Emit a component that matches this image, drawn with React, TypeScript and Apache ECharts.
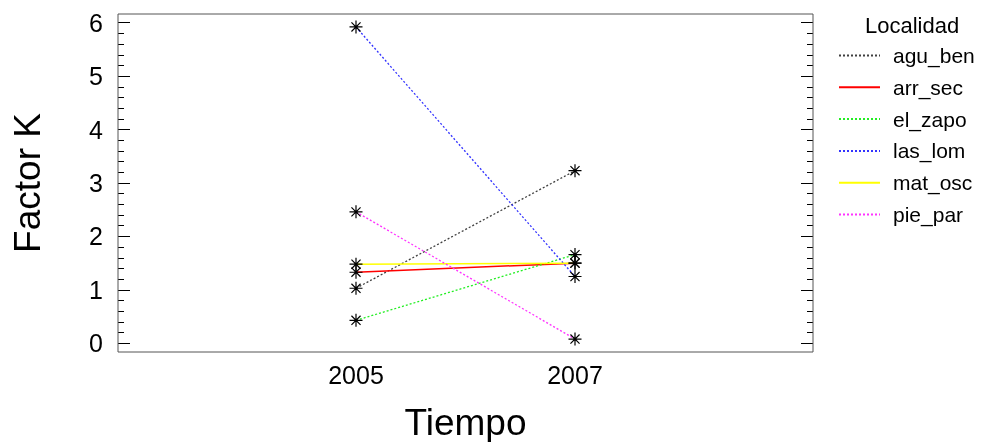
import React, { useEffect, useRef } from "react";
import * as echarts from "echarts";

const years = [2005, 2007];
const seriesNames = ["agu_ben", "arr_sec", "el_zapo", "las_lom", "mat_osc", "pie_par"];
const aguBen = [1.03, 3.23];
const arrSec = [1.33, 1.5];
const elZapo = [0.43, 1.66];
const lasLom = [5.92, 1.25];
const matOsc = [1.48, 1.5];
const piePar = [2.46, 0.08];
const yTicks = [0, 1, 2, 3, 4, 5, 6];
const xTickLabels = ["2005", "2007"];

const values = [aguBen, arrSec, elZapo, lasLom, matOsc, piePar];
const colors = ["#404040", "#ff0000", "#22ee22", "#3333ff", "#ffff00", "#ff33ff"];
const dashed = [true, false, true, true, false, true];

const FONT = "'Liberation Sans', Arial, sans-serif";
const STAR = "path://M5,0 L5,10 M0,5 L10,5 M1.5,1.5 L8.5,8.5 M8.5,1.5 L1.5,8.5";

// Plot frame (outer box) and inner data region
const FRAME = { left: 118, top: 14, right: 813, bottom: 352 };
const INNER = { left: 356, top: 22.7, right: 575, bottom: 343.3 };

export default function App() {
  const ref = useRef<HTMLDivElement>(null);
  useEffect(() => {
    if (!ref.current) return;
    const chart = echarts.init(ref.current, null, { renderer: "svg" });
    const yAxisBase = {
      type: "value",
      min: yTicks[0],
      max: yTicks[yTicks.length - 1],
      interval: 1,
      splitLine: { show: false },
      axisLine: { show: false },
      axisTick: { show: true, inside: true, length: 12, lineStyle: { color: "#000", width: 1 } },
      minorTick: { show: true, splitNumber: 5, length: 6, lineStyle: { color: "#000", width: 1 } },
    };
    chart.setOption({
      animation: false,
      textStyle: { fontFamily: FONT },
      title: {
        text: "Localidad",
        left: 860,
        top: 9,
        textStyle: { fontFamily: FONT, fontSize: 22, fontWeight: "normal", color: "#000" },
      },
      legend: {
        orient: "vertical",
        left: 833,
        top: 40,
        itemWidth: 41,
        itemHeight: 14,
        itemGap: 10.8,
        data: seriesNames,
        itemStyle: { opacity: 0 },
        textStyle: { fontFamily: FONT, fontSize: 21, color: "#000", padding: [0, 0, 0, 8] },
      },
      graphic: [
        {
          type: "rect",
          silent: true,
          z: 100,
          shape: {
            x: FRAME.left,
            y: FRAME.top,
            width: FRAME.right - FRAME.left,
            height: FRAME.bottom - FRAME.top,
          },
          style: { fill: "none", stroke: "#555", lineWidth: 1 },
        },
      ],
      grid: {
        left: INNER.left,
        top: INNER.top,
        right: 982 - INNER.right,
        bottom: 442 - INNER.bottom,
        show: false,
        containLabel: false,
        outerBoundsMode: "none",
      },
      xAxis: {
        type: "value",
        min: years[0],
        max: years[1],
        interval: 2,
        offset: FRAME.bottom - INNER.bottom,
        name: "Tiempo",
        nameLocation: "middle",
        nameGap: 52,
        nameTextStyle: { fontFamily: FONT, fontSize: 37, color: "#000" },
        splitLine: { show: false },
        axisLine: { show: false },
        axisTick: { show: false },
        axisLabel: {
          fontFamily: FONT,
          fontSize: 25,
          color: "#000",
          margin: 10,
          formatter: (v: number) => {
            const s = String(Math.round(v));
            return xTickLabels.includes(s) ? s : "";
          },
        },
      },
      yAxis: [
        {
          ...yAxisBase,
          position: "left",
          offset: INNER.left - FRAME.left,
          name: "Factor K",
          nameLocation: "middle",
          nameRotate: 90,
          nameGap: 72,
          nameTextStyle: { fontFamily: FONT, fontSize: 37, color: "#000" },
          axisLabel: {
            fontFamily: FONT,
            fontSize: 25,
            color: "#000",
            margin: 15,
            formatter: (v: number) => String(Math.round(v)),
          },
        },
        {
          ...yAxisBase,
          position: "right",
          offset: FRAME.right - INNER.right,
          axisLabel: { show: false },
        },
      ],
      series: seriesNames.map((name, i) => ({
        name,
        type: "line",
        data: years.map((yr, j) => [yr, values[i][j]]),
        symbol: STAR,
        symbolSize: 13,
        clip: false,
        itemStyle: { color: colors[i], borderColor: "#000", borderWidth: 1.2 },
        lineStyle: { color: colors[i], width: dashed[i] ? 1.3 : 1.5, type: dashed[i] ? [2, 2] : "solid" },
        emphasis: { disabled: true },
      })),
    });
    return () => chart.dispose();
  }, []);
  return <div ref={ref} style={{ position: "fixed", left: 0, top: 0, width: 982, height: 442 }} />;
}
